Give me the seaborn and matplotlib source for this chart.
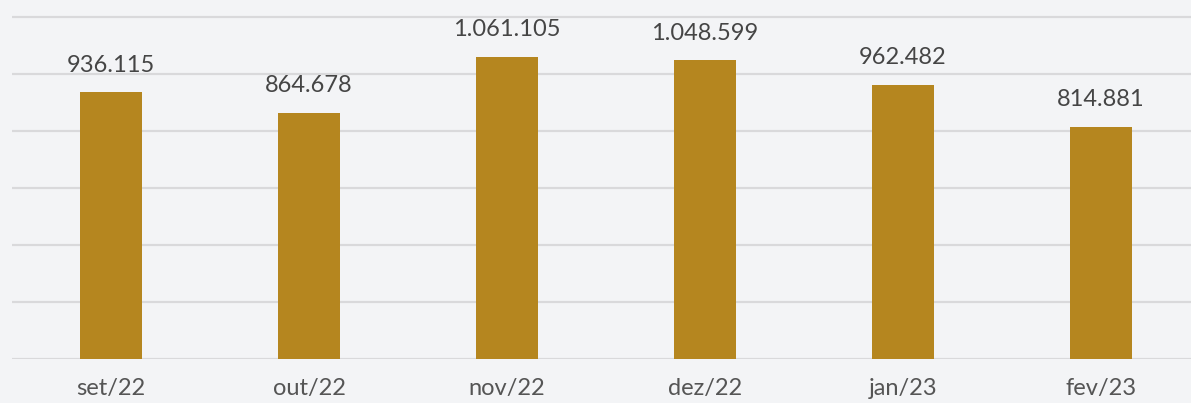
import matplotlib
matplotlib.use("Agg")
import matplotlib.pyplot as plt
import seaborn as sns
import pandas as pd

months = ["set/22", "out/22", "nov/22", "dez/22", "jan/23", "fev/23"]
values = [936115, 864678, 1061105, 1048599, 962482, 814881]
labels = ["936.115", "864.678", "1.061.105", "1.048.599", "962.482", "814.881"]

df = pd.DataFrame({"mes": months, "valor": values})

sns.set_style("white")
plt.rcParams["font.family"] = ["Lato", "DejaVu Sans"]

bg = "#f3f4f6"
fig = plt.figure(figsize=(11.91, 4.03), dpi=100, facecolor=bg)
ax = fig.add_axes([12 / 1191, 44 / 403, 1188 / 1191, 359 / 403])
ax.set_facecolor(bg)

sns.barplot(data=df, x="mes", y="valor", color="#b5861f", width=0.31,
            saturation=1, linewidth=0, ax=ax, zorder=3)

ax.set_ylim(0, 1260000)
ax.set_xlim(-0.5, 5.5)
ax.set_yticks(range(0, 1200001, 200000))
ax.yaxis.grid(True, color="#d9d9db", linewidth=1.6, zorder=0)
ax.set_axisbelow(True)
ax.set_yticklabels([])
ax.tick_params(axis="y", length=0)
ax.tick_params(axis="x", length=0, pad=14, labelsize=17, labelcolor="#555555")
ax.set_xlabel("")
ax.set_ylabel("")
sns.despine(ax=ax, left=True, bottom=True, top=True, right=True)

for i, (v, t) in enumerate(zip(values, labels)):
    ax.annotate(t, (i, v), xytext=(0, 12), textcoords="offset points",
                ha="center", va="bottom", fontsize=17, color="#454545")

fig.savefig("out.png", dpi=100, facecolor=bg)
